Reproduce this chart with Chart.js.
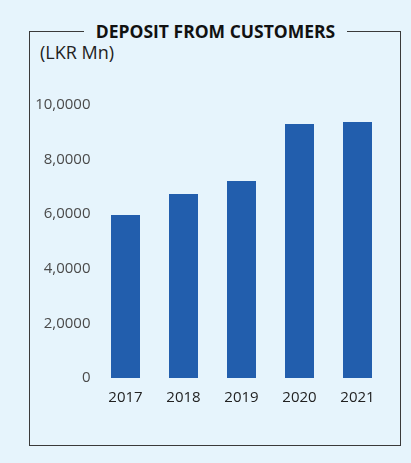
<!DOCTYPE html>
<html>
<head>
<meta charset="utf-8">
<script src="https://cdn.jsdelivr.net/npm/chart.js@4/dist/chart.umd.min.js"></script>
<style>
  html, body { margin: 0; padding: 0; }
  body { width: 411px; height: 463px; background: #e6f4fc; position: relative; overflow: hidden; font-family: "Open Sans", sans-serif; }
  .frame { position: absolute; left: 29px; top: 31px; width: 370px; height: 413px; border: 1px solid #3a3a3a; }
  .title { position: absolute; left: 0; width: 431px; top: 19px; text-align: center; font-weight: 700; font-size: 17.5px; line-height: 24px; color: #111; }
  .title span { background: #e6f4fc; padding: 0 12px; }
  .unit { position: absolute; left: 40px; top: 40px; font-size: 18px; line-height: 24px; color: #222; }
  #myChart { position: absolute; left: 0; top: 0; }
</style>
</head>
<body>
<div class="frame"></div>
<div class="title"><span>DEPOSIT FROM CUSTOMERS</span></div>
<div class="unit">(LKR Mn)</div>
<canvas id="myChart" width="411" height="463"></canvas>
<script>
var years = ["2017", "2018", "2019", "2020", "2021"];
var deposits = [5970, 6740, 7220, 9300, 9380];
var tickLabels = ["0", "2,0000", "4,0000", "6,0000", "8,0000", "10,0000"];

var ctx = document.getElementById("myChart").getContext("2d");

var myChart = new Chart(ctx, {
  type: "bar",
  data: {
    labels: years,
    datasets: [
      {
        label: "Deposit from customers",
        data: deposits,
        backgroundColor: "rgb(34,94,173)",
        borderWidth: 0,
        barPercentage: 0.5,
        categoryPercentage: 1,
      },
    ],
  },
  options: {
    responsive: false,
    animation: false,
    layout: {
      padding: { left: 30, right: 24.5, top: 105, bottom: 55 },
    },
    plugins: {
      legend: { display: false },
      tooltip: { enabled: false },
    },
    scales: {
      x: {
        grid: { display: false, drawTicks: false },
        border: { display: false },
        ticks: {
          color: "#222",
          padding: 11,
          font: { family: "Open Sans", size: 15 },
        },
        afterFit: function (scale) {
          scale.height = 30;
        },
      },
      y: {
        min: 0,
        max: 10000,
        grid: { display: false, drawTicks: false },
        border: { display: false },
        ticks: {
          stepSize: 2000,
          color: "#4a4a4a",
          padding: 6,
          font: { family: "Open Sans", size: 15 },
          callback: function (value) {
            return tickLabels[value / 2000];
          },
        },
        afterFit: function (scale) {
          scale.width = 66.5;
        },
      },
    },
  },
});
</script>
</body>
</html>
